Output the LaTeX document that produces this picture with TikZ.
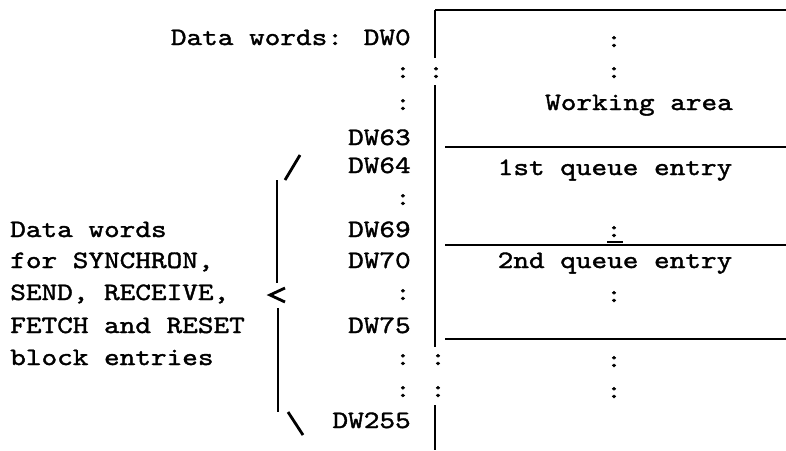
\documentclass[tikz,border=0pt]{standalone}
\usepackage{fontspec}
\newfontfamily\typew[FakeStretch=1.19, FakeBold=1.5]{lmmono10-regular.otf}
\usetikzlibrary{positioning}

\begin{document}
\begin{tikzpicture}[x=0.025cm, y=-0.025cm,
                    tw/.style = {font=\typew\fontsize{17.8}{19}\selectfont, inner sep=0pt},
                    dwtext/.style = {tw, anchor=base east},
                    celltext/.style = {tw, anchor=base},
                    desctext/.style = {tw, anchor=base west},
                    wall/.style = {line width=2.1pt},
                    rule/.style = {line width=1.2pt},
                    bracket/.style = {line width=2pt}
                ]
    \useasboundingbox (0,0) rectangle (786,450);

    % data word addresses
    \node[dwtext] (dw0)   at (411,45)  {Data words: DW0};
    \node[dwtext] (dwa)   at (411,78)  {:};
    \node[dwtext] (dwb)   at (411,110) {:};
    \node[dwtext] (dw63)  at (411,145) {DW63};
    \node[dwtext] (dw64)  at (411,173) {DW64};
    \node[dwtext] (dwc)   at (411,205) {:};
    \node[dwtext] (dw69)  at (411,237) {DW69};
    \node[dwtext] (dw70)  at (411,268) {DW70};
    \node[dwtext] (dwd)   at (411,300) {:};
    \node[dwtext] (dw75)  at (411,333) {DW75};
    \node[dwtext] (dwe)   at (411,365) {:};
    \node[dwtext] (dwf)   at (411,397) {:};
    \node[dwtext] (dw255) at (411,428) {DW255};

    % description
    \node[desctext] (desc1) at (10,237) {Data words};
    \node[desctext] (desc2) at (10,268) {for SYNCHRON,};
    \node[desctext] (desc3) at (10,300) {SEND, RECEIVE,};
    \node[desctext] (desc4) at (10,333) {FETCH and RESET};
    \node[desctext] (desc5) at (10,365) {block entries};

    % bracket
    \draw[bracket] (285,180) -- (300,155);
    \draw[bracket] (277,180) -- (277,283);
    \draw[bracket] (285,288) -- (270,295) -- (285,302);
    \draw[bracket] (278,308) -- (278,412);
    \draw[bracket] (288,412) -- (303,435);

    % data block
    \draw[rule] (786,10) -- (435,10);
    \draw[wall] (435,10) -- (435,58);
    \draw[wall] (435,85) -- (435,347);
    \draw[wall] (435,405) -- (435,450);
    \node[celltext] (wa) at (436,78)  {:};
    \node[celltext] (wb) at (438,365) {:};
    \node[celltext] (wc) at (438,397) {:};

    \draw[rule] (445,147) -- (786,147);
    \draw[rule] (445,245) -- (786,245);
    \draw[rule] (607,242) -- (623,242);
    \draw[rule] (445,339) -- (786,339);

    \node[celltext] (ka) at (614,47)  {:};
    \node[celltext] (kb) at (614,78)  {:};
    \node[celltext] (work) at (639,110) {Working area};
    \node[celltext] (q1) at (615,175) {1st queue entry};
    \node[celltext] (kc) at (614,237) {:};
    \node[celltext] (q2) at (615,268) {2nd queue entry};
    \node[celltext] (kd) at (614,302) {:};
    \node[celltext] (ke) at (614,367) {:};
    \node[celltext] (kf) at (614,398) {:};

\end{tikzpicture}
\end{document}
